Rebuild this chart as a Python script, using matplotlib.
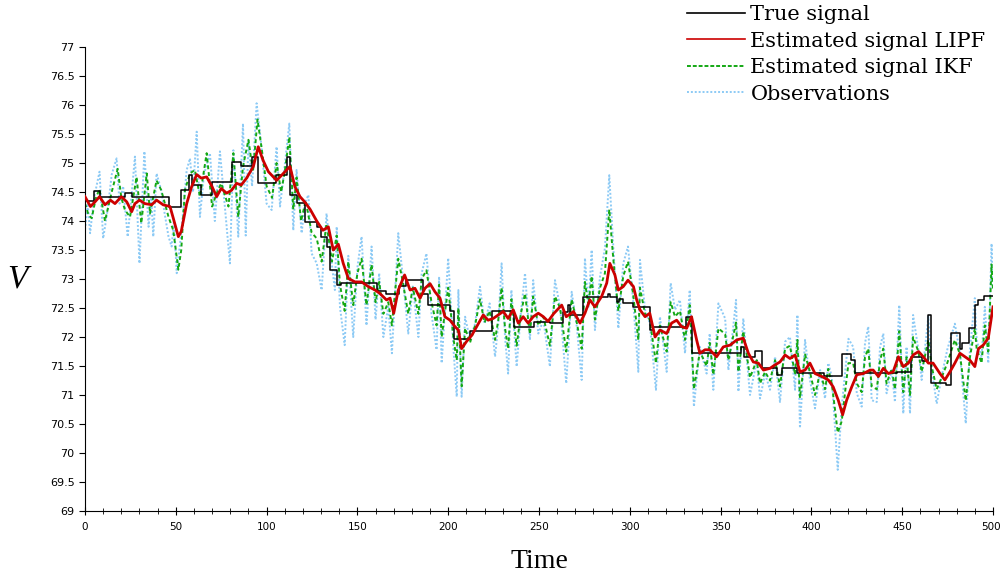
import numpy as np
import matplotlib
matplotlib.use("Agg")
import matplotlib.pyplot as plt
import matplotlib.transforms as mtransforms
from matplotlib.lines import Line2D
from matplotlib.ticker import MultipleLocator, FormatStrFormatter

# true signal, piecewise constant: (time, level)
true_pts = [
    (0, 74.35), (5, 74.52), (8, 74.41), (22, 74.48), (26, 74.41), (46, 74.24),
    (53, 74.53), (57, 74.79), (59, 74.62), (64, 74.45), (70, 74.67), (81, 75.02),
    (86, 74.95), (92, 75.10), (95, 74.65), (105, 74.80), (111, 75.10), (113, 74.45),
    (117, 74.31), (121, 73.98), (128, 73.90), (130, 73.72), (133, 73.55), (135, 73.16),
    (139, 72.90), (141, 72.93), (161, 72.80), (166, 72.74), (173, 72.88), (177, 72.98),
    (186, 72.74), (189, 72.55), (201, 72.45), (203, 71.97), (212, 72.10), (224, 72.45),
    (236, 72.17), (247, 72.26), (256, 72.24), (263, 72.43), (266, 72.55), (267, 72.38),
    (274, 72.69), (288, 72.75), (289, 72.69), (293, 72.60), (294, 72.65), (296, 72.59),
    (302, 72.52), (311, 72.12), (313, 72.17), (331, 72.34), (334, 71.72), (361, 71.83),
    (363, 71.66), (369, 71.76), (373, 71.47), (381, 71.35), (384, 71.47), (392, 71.38),
    (407, 71.33), (417, 71.70), (422, 71.60), (424, 71.38), (447, 71.40), (455, 71.66),
    (461, 71.58), (464, 72.38), (466, 71.20), (474, 71.17), (477, 72.07), (482, 71.80),
    (483, 71.90), (487, 72.16), (490, 72.55), (492, 72.64), (495, 72.70), (500, 72.70),
]

# LIPF estimate
lipf_pts = [
    (0, 74.42), (3, 74.25), (5.5, 74.33), (8, 74.42), (11, 74.28), (14, 74.36),
    (16.5, 74.30), (20, 74.42), (23, 74.33), (25.7, 74.16), (27.5, 74.30), (30, 74.36),
    (33, 74.30), (36.7, 74.28), (39.4, 74.36), (43, 74.28), (46.8, 74.25), (48.6, 74.05),
    (51.4, 73.73), (53, 73.82), (56, 74.30), (58.7, 74.59), (61.5, 74.80), (64, 74.74),
    (67, 74.76), (70, 74.59), (72.5, 74.42), (75, 74.56), (78, 74.48), (80.7, 74.53),
    (83.5, 74.65), (86, 74.62), (89, 74.74), (92.7, 74.94), (95.4, 75.28), (98, 75.05),
    (101, 74.85), (103.7, 74.76), (105.5, 74.70), (108.3, 74.79), (111, 74.88), (112.9, 74.94),
    (115.6, 74.59), (118.4, 74.42), (121, 74.33), (124, 74.20), (127.6, 74.00), (131, 73.84),
    (134, 73.90), (136.7, 73.50), (139.5, 73.60), (142.2, 73.27), (145, 73.01), (148.7, 72.95),
    (152.3, 72.95), (156, 72.87), (159.7, 72.81), (162.4, 72.75), (166, 72.64), (168, 72.67),
    (170, 72.41), (172.5, 72.81), (176, 73.07), (179, 72.81), (181.7, 72.84), (184.5, 72.67),
    (187.2, 72.84), (190, 72.92), (192.7, 72.78), (195.5, 72.67), (198.2, 72.35), (201, 72.29),
    (203.7, 72.18), (205.6, 72.12), (207.4, 71.80), (210, 71.92), (213, 72.03), (215.7, 72.18),
    (219.3, 72.38), (222, 72.29), (224.8, 72.32), (227.6, 72.38), (230.3, 72.44), (233, 72.32),
    (235.8, 72.47), (238.6, 72.24), (241.3, 72.35), (244, 72.24), (246.8, 72.35), (249.6, 72.41),
    (252.4, 72.35), (255, 72.27), (258, 72.40), (261, 72.50), (262.5, 72.55), (265, 72.35),
    (269, 72.44), (272.6, 72.24), (275.3, 72.41), (278, 72.64), (280.8, 72.52), (284.5, 72.70),
    (287.3, 72.93), (289, 73.27), (291.8, 73.07), (293.7, 72.81), (296.4, 72.87), (299, 72.98),
    (302, 72.87), (303.8, 72.64), (305.6, 72.47), (308.4, 72.35), (311, 72.41), (313.9, 72.00),
    (316.6, 72.12), (320.3, 72.06), (323, 72.24), (325.8, 72.29), (328.5, 72.18), (331.3, 72.15),
    (334, 72.35), (336.8, 71.95), (338.6, 71.72), (341.4, 71.78), (344, 71.78), (347.8, 71.66),
    (351.5, 71.83), (355.2, 71.86), (358.9, 71.95), (362.5, 71.98), (365.3, 71.72), (368, 71.57),
    (370.8, 71.55), (373.6, 71.43), (377.2, 71.46), (380, 71.52), (382.7, 71.57), (385.5, 71.69),
    (388.2, 71.63), (391, 71.69), (393.7, 71.40), (396.5, 71.43), (399.2, 71.55), (402, 71.37),
    (405.7, 71.32), (409.3, 71.26), (412, 71.14), (414.8, 70.91), (417.2, 70.66), (419.4, 70.91),
    (422.2, 71.14), (425, 71.35), (428.6, 71.37), (432.3, 71.43), (434, 71.43), (436.9, 71.32),
    (439.6, 71.46), (442.4, 71.37), (445, 71.40), (447.9, 71.66), (450.6, 71.49), (453.4, 71.55),
    (456, 71.69), (459, 71.75), (461.6, 71.66), (464.4, 71.55), (467, 71.55), (470.8, 71.37),
    (473.5, 71.26), (476.3, 71.40), (479, 71.55), (481.8, 71.72), (484.6, 71.66), (487.3, 71.60),
    (490, 71.49), (492, 71.80), (494.6, 71.86), (497.4, 71.98), (500, 72.52),
]

# IKF estimate
ikf_pts = [
    (0, 74.30), (2, 74.10), (3.7, 74.05), (6, 74.40), (8, 74.55), (11, 74.00), (14.7, 74.50),
    (18, 74.90), (20, 74.40), (22, 74.19), (24.8, 74.07), (28.4, 74.76), (31, 73.96), (34, 74.82),
    (35.8, 74.13), (39.4, 74.70), (42, 74.53), (46, 74.07), (48.6, 73.84), (51.4, 73.16),
    (53, 73.50), (55, 74.53), (57.8, 74.82), (60.5, 74.88), (63.3, 74.42), (67, 75.17),
    (70, 74.25), (72.5, 74.48), (75, 74.65), (79, 74.25), (81.7, 75.17), (84.4, 74.07),
    (87, 74.94), (90, 75.40), (92.5, 74.85), (95, 75.75), (97.5, 75.20), (100, 74.60),
    (103, 74.40), (105.5, 75.00), (108, 74.50), (110, 74.85), (112.5, 75.45), (114.7, 74.20),
    (116.5, 74.75), (119, 74.00), (121.5, 74.35), (124.8, 73.80), (127.6, 73.70), (130.3, 73.30),
    (133, 73.95), (136, 73.30), (138.6, 73.75), (140.4, 72.90), (143, 72.45), (145, 73.30),
    (147.7, 72.55), (150, 73.10), (152.3, 73.35), (155, 72.55), (157.8, 73.25), (160, 72.60),
    (162, 72.95), (164.3, 72.40), (167, 72.60), (169, 72.20), (172.5, 73.35), (175, 72.95),
    (178, 72.40), (180.5, 72.85), (183.6, 72.40), (185.4, 73.00), (188, 73.15), (190.8, 72.60),
    (193.6, 72.20), (195, 72.90), (196.4, 72.00), (200, 72.85), (203, 71.95), (204.7, 71.60),
    (205.6, 72.50), (207.4, 71.15), (209.3, 72.15), (212, 71.90), (214.8, 72.20), (217.5, 72.65),
    (220, 72.25), (222.8, 72.45), (225.8, 71.95), (227.6, 72.30), (229.4, 72.85), (231.3, 72.15),
    (233, 71.80), (234.8, 72.65), (237.7, 71.85), (240, 72.40), (242.3, 72.75), (245, 72.05),
    (246.8, 72.70), (249.6, 72.20), (252.4, 72.35), (256, 71.85), (258.8, 72.70), (261.6, 72.50),
    (265, 71.75), (268, 72.65), (270.8, 72.25), (273.5, 71.80), (275.3, 72.95), (277.2, 72.55),
    (279, 73.05), (280.8, 72.30), (283.6, 72.85), (286.3, 73.10), (288.7, 74.20), (290.9, 73.35),
    (293.7, 72.45), (296.4, 73.05), (299, 73.30), (301.8, 72.75), (304.7, 71.95), (305.6, 72.85),
    (308.4, 72.40), (311, 72.30), (314.4, 71.55), (316.6, 72.20), (320.3, 71.75), (322.5, 72.60),
    (324.9, 72.35), (327.6, 72.45), (330.4, 71.95), (333, 72.55), (335.3, 71.10), (338.6, 71.75),
    (342.3, 71.50), (344, 71.90), (346, 71.35), (348.8, 72.15), (352.5, 72.05), (354.3, 71.60),
    (356.2, 71.90), (358.5, 72.25), (359.8, 71.40), (362.5, 72.10), (366.2, 71.30), (369.9, 71.60),
    (371.7, 71.20), (374.5, 71.40), (377.2, 71.25), (380, 71.60), (382.7, 71.15), (385.5, 71.80),
    (388.2, 71.85), (391, 71.35), (392.3, 71.95), (393.7, 70.95), (396.5, 71.70), (399.2, 71.40),
    (402, 71.00), (404.8, 71.40), (407.5, 71.10), (409.3, 71.45), (411.2, 71.20), (413, 70.75),
    (414.5, 70.35), (416.7, 70.55), (420.4, 71.55), (423, 71.55), (425, 71.20), (427.7, 71.05),
    (429.5, 71.65), (431.3, 71.80), (433.2, 71.15), (436, 71.10), (437.8, 71.60), (439.6, 71.80),
    (441.4, 71.20), (444.2, 71.45), (446, 71.10), (448.4, 72.10), (450.6, 71.05), (452.4, 71.65),
    (454.3, 71.00), (456, 72.00), (458.9, 71.75), (460.7, 71.40), (464.4, 71.95), (466.2, 71.50),
    (469, 71.10), (471.7, 71.30), (474.8, 71.55), (479, 71.95), (481.8, 71.70), (485, 70.90),
    (487.3, 71.65), (490, 72.15), (491, 71.80), (493.7, 71.55), (495.5, 72.20), (497.4, 71.75),
    (499.2, 73.25), (500, 72.80),
]

# noisy observations
obs_pts = [
    (0, 73.85), (1.5, 74.30), (2.8, 73.79), (5, 74.40), (8, 74.85), (10, 73.70), (12.5, 74.20),
    (14.7, 74.80), (17.4, 75.08), (19, 74.30), (21, 74.60), (23.5, 73.73), (25.5, 74.40),
    (27.5, 75.11), (30, 73.27), (32.7, 75.20), (35, 73.90), (36.5, 74.40), (37.6, 73.73),
    (39.4, 74.82), (42, 74.53), (44, 74.10), (46, 73.73), (47.7, 73.56), (49, 74.00),
    (50.5, 73.10), (53, 73.79), (56, 74.88), (57.8, 75.08), (59.5, 74.50), (61.5, 75.54),
    (63.3, 74.07), (65.5, 74.80), (68.8, 75.17), (71.5, 74.00), (74.3, 75.20), (77, 74.25),
    (79.8, 73.27), (81.7, 75.22), (84.4, 73.73), (87, 75.68), (88.5, 73.75), (90, 75.40),
    (92, 74.60), (94.5, 76.03), (97, 75.34), (100, 74.30), (102.8, 74.19), (105.5, 75.28),
    (107.4, 74.25), (109.5, 74.82), (112.5, 75.68), (114.7, 73.84), (116.5, 74.88), (119.3, 73.79),
    (121, 74.30), (123, 74.45), (124.8, 73.44), (127.6, 73.27), (130.3, 72.81), (133, 74.13),
    (135, 73.50), (137.6, 72.81), (138.6, 73.90), (140.4, 72.52), (143, 71.86), (145, 73.40),
    (147.7, 72.00), (150, 73.20), (152.3, 73.73), (155, 72.20), (157.8, 73.56), (160, 72.30),
    (162, 73.10), (164.3, 72.00), (167, 72.52), (169, 71.72), (172.5, 73.79), (175, 73.04),
    (178, 72.06), (180.5, 72.87), (183.6, 72.00), (185.4, 73.10), (188, 73.44), (190.8, 72.40),
    (193.6, 71.78), (195, 73.04), (196.4, 71.55), (200, 73.36), (203, 71.75), (204.7, 70.97),
    (205.6, 72.81), (207.4, 70.97), (209.3, 72.35), (212, 71.95), (214.8, 72.23), (217.5, 72.87),
    (220, 72.23), (222.8, 72.58), (225.8, 71.66), (227.6, 72.23), (229.4, 73.27), (231.3, 72.00),
    (233, 71.37), (234.8, 72.81), (237.7, 71.49), (240, 72.41), (242.3, 73.10), (245, 71.95),
    (246.8, 72.98), (249.6, 72.06), (252.4, 72.29), (256, 71.49), (258.8, 72.98), (261.6, 72.52),
    (265, 71.20), (268, 72.78), (270.8, 72.18), (273.5, 71.26), (275.3, 73.36), (277.2, 72.52),
    (279, 73.50), (280.8, 72.12), (283.6, 73.04), (286.3, 73.53), (288.7, 74.79), (290.9, 73.56),
    (293.7, 72.15), (296.4, 73.27), (299, 73.56), (301.8, 72.64), (304.7, 71.40), (305.6, 73.33),
    (308.4, 72.47), (311, 72.24), (314.4, 71.09), (316.6, 72.35), (320.3, 71.40), (322.5, 72.93),
    (324.9, 72.47), (327.6, 72.64), (330.4, 71.72), (333, 72.81), (335.3, 70.80), (338.6, 71.83),
    (342.3, 71.37), (344, 72.06), (346, 71.09), (348.8, 72.58), (352.5, 72.32), (354.3, 71.43),
    (356.2, 71.95), (358.5, 72.64), (359.8, 71.06), (362.5, 72.32), (366.2, 71.00), (369.9, 71.60),
    (371.7, 70.94), (374.5, 71.37), (377.2, 71.09), (380, 71.66), (382.7, 70.88), (385.5, 71.92),
    (388.2, 72.00), (391, 71.09), (392.3, 72.38), (393.7, 70.43), (396.5, 71.95), (399.2, 71.26),
    (402, 70.77), (404.8, 71.43), (407.5, 70.94), (409.3, 71.55), (411.2, 71.32), (413, 70.45),
    (414.5, 69.71), (416.7, 70.80), (420.4, 71.97), (423, 71.83), (425, 71.03), (427.7, 70.80),
    (429.5, 71.89), (431.3, 72.18), (433.2, 70.91), (436, 70.88), (437.8, 71.83), (439.6, 72.06),
    (441.4, 71.03), (444.2, 71.43), (446, 70.88), (448.4, 72.55), (450.6, 70.68), (452.4, 71.83),
    (454.3, 70.68), (456, 72.38), (458.9, 71.78), (460.7, 71.26), (464.4, 72.35), (466.2, 71.46),
    (469, 70.85), (471.7, 71.32), (474.8, 71.78), (479, 72.23), (481.8, 71.72), (485, 70.51),
    (487.3, 71.78), (490, 72.67), (491, 71.95), (493.7, 71.66), (495.5, 72.52), (497.4, 71.55),
    (499.2, 73.61), (500, 72.87),
]

labels = ["True signal", "Estimated signal LIPF", "Estimated signal IKF", "Observations"]
xticks = [0, 50, 100, 150, 200, 250, 300, 350, 400, 450, 500]

true_t, true_v = np.array(true_pts).T
lipf_t, lipf_v = np.array(lipf_pts).T
ikf_t, ikf_v = np.array(ikf_pts).T
obs_t, obs_v = np.array(obs_pts).T

c_true = "black"
c_lipf = "#cc0000"
c_ikf = "#14a814"
c_obs = "#8ccaf5"

fig = plt.figure(figsize=(10, 5.76), dpi=100)
ax = fig.add_axes([0.085, 0.1128, 0.908, 0.8056])

ax.plot(obs_t, obs_v, color=c_obs, ls=(0, (1, 1)), lw=1.4, zorder=1)
ax.plot(ikf_t, ikf_v, color=c_ikf, ls=(0, (2, 1.5)), lw=1.4, zorder=2)
ax.plot(true_t, true_v, color=c_true, lw=1.1, drawstyle="steps-post", zorder=3)
ax.plot(lipf_t, lipf_v, color=c_lipf, lw=2.0, zorder=4)

ax.set_xlim(0, 500)
ax.set_ylim(69, 77)
ax.set_xticks(xticks, labels=[str(x) for x in xticks])
ax.xaxis.set_minor_locator(MultipleLocator(10))
ax.yaxis.set_major_locator(MultipleLocator(0.5))
ax.yaxis.set_major_formatter(FormatStrFormatter("%g"))

for s in ["top", "right"]:
    ax.spines[s].set_visible(False)
ax.tick_params(axis="x", which="major", direction="inout", length=6, pad=5, labelsize=7.5)
ax.tick_params(axis="x", which="minor", direction="inout", length=4)
ax.tick_params(axis="y", direction="out", length=4, labelsize=8)

# last x label sits at the figure edge; keep it inside
last = ax.get_xticklabels()[-1]
last.set_horizontalalignment("right")
last.set_transform(last.get_transform() +
                   mtransforms.ScaledTranslation(8 / 100, 0, fig.dpi_scale_trans))

ax.set_xlabel("Time", family="Liberation Serif", fontsize=20, labelpad=12)
ax.set_ylabel("V", family="Liberation Serif", style="italic", fontsize=24,
              rotation=0, va="center", ha="center")
ax.yaxis.set_label_coords(-0.074, 0.5)

handles = [
    Line2D([], [], color=c_true, lw=1.2),
    Line2D([], [], color=c_lipf, lw=1.2),
    Line2D([], [], color=c_ikf, lw=1.4, ls=(0, (2, 1))),
    Line2D([], [], color=c_obs, lw=1.4, ls=(0, (1, 1))),
]
fig.legend(handles, labels, loc="upper left", bbox_to_anchor=(0.686, 0.993),
           frameon=False, prop={"family": "DejaVu Serif", "size": 15},
           borderpad=0.05, borderaxespad=0, handlelength=2.8, handletextpad=0.24,
           labelspacing=0.36)

fig.savefig("out.png", dpi=100)
